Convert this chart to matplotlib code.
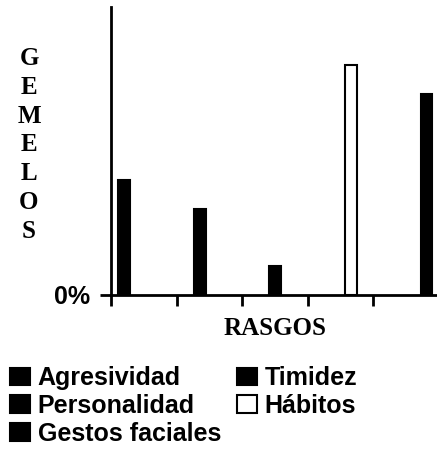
import numpy as np
import matplotlib
matplotlib.use("Agg")
import matplotlib.pyplot as plt
from matplotlib.patches import Patch

# Rasgos compartidos por gemelos (% por rasgo)
rasgos = ["Agresividad", "Personalidad", "Gestos faciales", "Hábitos", "Timidez"]
valores = [40, 30, 10, 80, 70]
colores = ["black", "black", "black", "white", "black"]
orden_leyenda = ["Agresividad", "Personalidad", "Gestos faciales", "Timidez", "Hábitos"]

fig = plt.figure(figsize=(4.37, 4.49), dpi=100)
ax = fig.add_axes([0.254, 0.343, 0.75, 0.641])

# each trait sits in its own slot, shifted a little further right each time
pos = np.arange(len(rasgos)) + 0.2 + 0.153 * np.arange(len(rasgos))
ax.bar(pos, valores, width=0.18, color=colores, edgecolor="black", linewidth=1.5)

ax.set_xlim(0, 5)
ax.set_ylim(0, 100)
ax.set_xticks(range(5))
ax.set_xticklabels([])
ax.set_yticks([0])
ax.set_yticklabels(["0%"], fontfamily="Liberation Sans", fontweight="bold", fontsize=18)
ax.tick_params(axis="both", direction="out", length=8, width=2, colors="black", pad=7)
for s in ["top", "right"]:
    ax.spines[s].set_visible(False)
for s in ["left", "bottom"]:
    ax.spines[s].set_linewidth(2)

ax.set_xlabel("RASGOS", fontfamily="Liberation Serif", fontweight="bold", fontsize=18, labelpad=1)

# vertical stacked y label
for i, letra in enumerate("GEMELOS"):
    fig.text(29 / 437, 1 - (58.5 + i * 28.8) / 449, letra, fontfamily="Liberation Serif",
             fontweight="bold", fontsize=18, ha="center", va="center")

colores_leyenda = {r: c for r, c in zip(rasgos, colores)}
handles = [Patch(facecolor=colores_leyenda[r], edgecolor="black", linewidth=1.5, label=r)
           for r in orden_leyenda]
fig.legend(handles=handles, ncol=2, loc="lower left", bbox_to_anchor=(0.0, -0.015),
           frameon=False, prop={"family": "Liberation Sans", "weight": "bold", "size": 18},
           handlelength=0.8, handleheight=0.7, handletextpad=0.3, labelspacing=0.15,
           columnspacing=0.65, borderaxespad=0.2, borderpad=0.2)

fig.savefig("out.png", dpi=100)
